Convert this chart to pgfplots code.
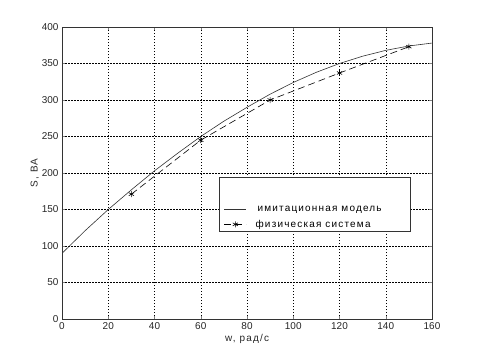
\documentclass[border=0pt]{standalone}
\usepackage{fontspec}
\setmainfont{Liberation Sans}
\newfontfamily\wide[LetterSpace=12]{Liberation Sans}
\usepackage{pgfplots}
\pgfplotsset{compat=1.18}
\begin{document}
\begin{tikzpicture}[x=1bp,y=1bp]
\path (0,0) rectangle (477,358);
\begin{axis}[
  at={(62bp,39bp)}, anchor=south west,
  scale only axis, width=370bp, height=292bp,
  xmin=0, xmax=160, ymin=0, ymax=400,
  xtick={0,20,...,160}, ytick={0,50,...,400},
  grid=major,
  grid style={black, dash pattern=on 1.5bp off 1.5bp, line width=0.5bp},
  axis line style={line width=0.6bp, black!80},
  tick align=inside, tick pos=both,
  major tick length=3bp,
  ticklabel style={font=\fontsize{10}{12}\selectfont, text=black!85},
  /pgf/number format/assume math mode=true,
  xlabel={w, рад/с}, ylabel={S, ВА},
  label style={font=\wide\fontsize{10}{12}\selectfont, text=black!85},
  xlabel style={yshift=2bp},
  ylabel style={yshift=-4bp},
  legend style={at={(rel axis cs:0.943,0.298)}, anchor=south east,
    font=\wide\fontsize{10}{12}\selectfont, draw=black!80, line width=0.6bp,
    inner xsep=5bp, inner ysep=1bp, row sep=3bp},
  legend cell align=left,
  legend image code/.code={\draw[#1, mark repeat=2, mark phase=2] plot coordinates {(0bp,0bp) (11bp,0bp) (22bp,0bp)};},
]
\addlegendimage{empty legend}
\addlegendentry{\rule{0pt}{17bp}}
\addplot[black!80, line width=0.6bp, no marks] coordinates {
(0,90) (10,121) (20,150) (30,177) (40,203) (50,227) (60,250) (70,271)
(80,290) (90,308) (100,324) (110,338) (120,350) (130,360) (140,368)
(150,374) (160,378)};
\addlegendentry{\hspace*{9bp}имитационная модель\hspace*{22bp}}
\addplot[black, line width=0.6bp, dash pattern=on 7bp off 4bp, mark=asterisk, mark size=3bp, mark options={solid}] coordinates {
(30,171) (60,245) (90,300) (120,337) (150,373)};
\addlegendentry{\hspace*{7bp}физическая система}
\end{axis}
\end{tikzpicture}
\end{document}
